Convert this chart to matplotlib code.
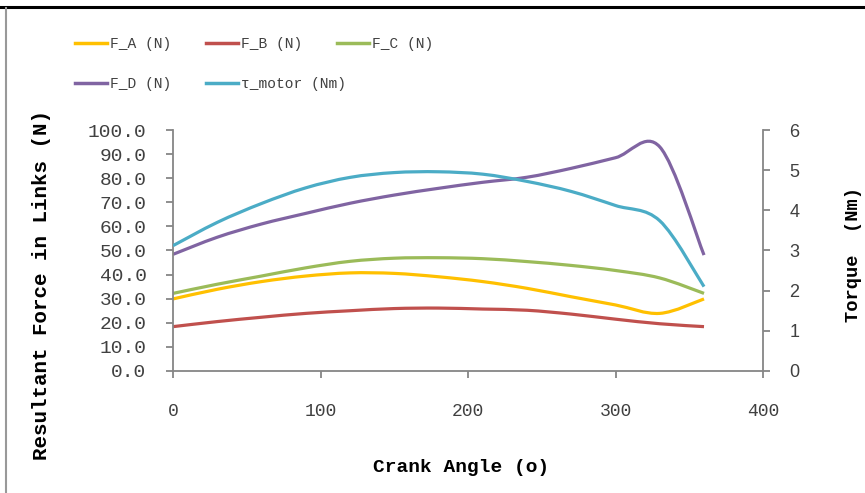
import numpy as np
import matplotlib
matplotlib.use("Agg")
import matplotlib.pyplot as plt
from matplotlib.path import Path
from matplotlib.patches import PathPatch
from matplotlib.lines import Line2D

# ----------------- data -----------------#
angle = [0, 30, 60, 90, 120, 150, 180, 210, 240, 270, 300, 330, 360]
F_A = [29.9, 33.9, 37.1, 39.4, 40.7, 40.5, 39.1, 37.1, 34.3, 30.8, 27.4, 23.9, 29.9]
F_B = [18.4, 20.5, 22.3, 23.9, 25.0, 25.9, 26.1, 25.7, 25.2, 23.6, 21.5, 19.6, 18.4]
F_C = [32.2, 36.0, 39.4, 42.8, 45.5, 46.8, 47.0, 46.6, 45.4, 43.8, 41.7, 38.6, 32.2]
F_D = [48.4, 55.5, 61.0, 65.4, 69.6, 73.0, 75.8, 78.3, 80.4, 84.1, 88.5, 93.0, 48.1]
tau = [3.12, 3.70, 4.17, 4.56, 4.82, 4.94, 4.96, 4.90, 4.72, 4.47, 4.12, 3.74, 2.10]

labels = ["F_A (N)", "F_B (N)", "F_C (N)", "F_D (N)", "\u03c4_motor (Nm)"]
colors = ["#FFC000", "#C0504D", "#9BBB59", "#8064A2", "#4BACC6"]

MONO = "Liberation Mono"
GRAY = "#868686"
TXT = "#404040"


# smooth line like excel (bezier through the points)
def smooth_path(x, y):
	p = np.column_stack([x, y]).astype(float)
	n = len(p)
	verts = [p[0]]
	codes = [Path.MOVETO]
	for i in range(n - 1):
		p0 = p[i - 1] if i > 0 else p[i]
		p3 = p[i + 2] if i + 2 < n else p[i + 1]
		c1 = p[i] + (p[i + 1] - p0) / 6.0
		c2 = p[i + 1] - (p3 - p[i]) / 6.0
		verts += [c1, c2, p[i + 1]]
		codes += [Path.CURVE4] * 3
	return Path(verts, codes)


fig = plt.figure(figsize=(8.65, 4.93), dpi=100)
ax = fig.add_axes([0.2, 0.2475, 0.6821, 0.4888])
ax2 = ax.twinx()

for series, c in zip([F_A, F_B, F_C, F_D], colors[:4]):
	ax.add_patch(PathPatch(smooth_path(angle, series), fill=False, edgecolor=c,
		lw=2.3, capstyle="butt", joinstyle="round"))
ax2.add_patch(PathPatch(smooth_path(angle, tau), fill=False, edgecolor=colors[4],
	lw=2.3, capstyle="butt", joinstyle="round"))

ax.set_xlim(0, 400)
ax.set_ylim(0, 100)
ax2.set_ylim(0, 6)
ax.set_xticks(np.arange(0, 401, 100))
ax.set_yticks(np.arange(0, 101, 10))
ax.set_yticklabels(["%.1f" % v for v in np.arange(0, 101, 10)])
ax2.set_yticks(range(0, 7))

for a in (ax, ax2):
	a.spines["top"].set_visible(False)
	for s in a.spines.values():
		s.set_color(GRAY)
		s.set_linewidth(1.3)
ax.spines["right"].set_visible(False)
ax2.spines["left"].set_visible(False)
ax2.spines["bottom"].set_visible(False)

ax.tick_params(axis="y", direction="out", length=5, width=1.3, color=GRAY, pad=14,
	labelsize=14, labelcolor=TXT)
ax.tick_params(axis="x", direction="out", length=5, width=1.3, color=GRAY, pad=18,
	labelsize=13, labelcolor=TXT)
ax2.tick_params(axis="y", direction="out", length=5, width=1.3, color=GRAY, pad=14,
	labelsize=13, labelcolor=TXT)
for t in ax.get_xticklabels() + ax.get_yticklabels():
	t.set_family(MONO)
for t in ax2.get_yticklabels():
	t.set_family("Liberation Sans")

# axis titles
fig.text(0.533, 1 - 467 / 493, "Crank Angle (o)", family=MONO, weight="bold",
	fontsize=14, ha="center", va="center", color="black")
fig.text(42 / 865, 1 - 285 / 493, "Resultant Force in Links (N)", family=MONO,
	weight="bold", fontsize=15, rotation=90, ha="center", va="center")
fig.text(854 / 865, 1 - 254 / 493, "Torque  (Nm)", family=MONO, weight="bold",
	fontsize=13.5, rotation=90, ha="center", va="center")

# legend, three per row
pos = [(75, 44), (206, 44), (337, 44), (75, 84), (206, 84)]
for lab, c, (px, py) in zip(labels, colors, pos):
	h = Line2D([], [], color=c, lw=2.5)
	fig.legend(handles=[h], labels=[lab], loc="center left",
		bbox_to_anchor=(px / 865, 1 - py / 493), frameon=False, borderpad=0,
		borderaxespad=0, handlelength=2.2, handletextpad=0.2,
		prop={"family": MONO, "size": 10.5}, labelcolor=TXT)

# border lines of the original chart area
fig.add_artist(Line2D([0, 1], [1 - 7 / 493, 1 - 7 / 493], color="black", lw=2.2,
	transform=fig.transFigure))
fig.add_artist(Line2D([6 / 865, 6 / 865], [0, 1 - 8 / 493], color="#999999", lw=1.5,
	transform=fig.transFigure))

fig.savefig("out.png", dpi=100)
